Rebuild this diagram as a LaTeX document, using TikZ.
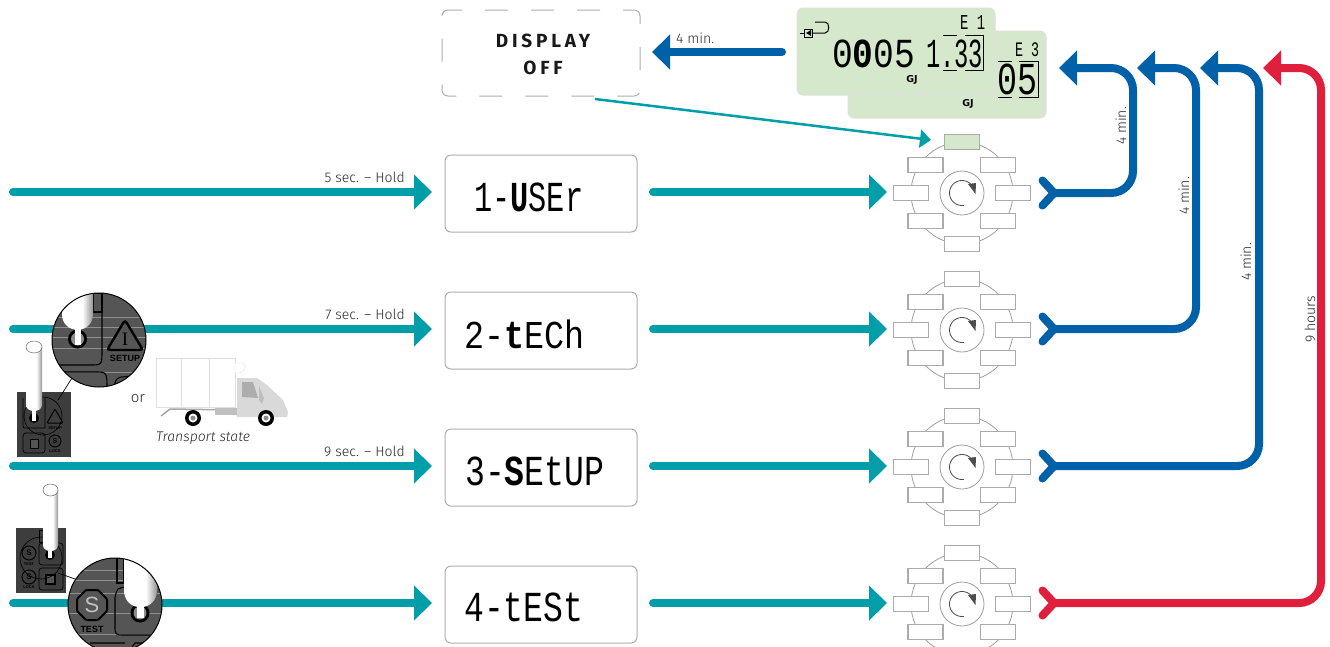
\documentclass[tikz,border=0pt]{standalone}
\usepackage{fontspec}
\usepackage{graphicx}
\usetikzlibrary{arrows.meta,calc}
\setmainfont{Fira Sans Light}[BoldFont=Fira Sans Medium,ItalicFont=Fira Sans Light Italic]
\newfontfamily\lcdfont{Liberation Mono}
\newfontfamily\labfont{Liberation Sans}
\newfontfamily\serfont{Liberation Serif}
\newfontfamily\unitfont{DejaVu Sans}
\newfontfamily\dispfont[LetterSpace=20]{Fira Sans Bold}
\definecolor{tealc}{HTML}{009EA8}
\definecolor{bluec}{HTML}{0060A8}
\definecolor{redc}{HTML}{E01F3C}
\definecolor{lcdg}{HTML}{D5E8CB}
\definecolor{panelc}{HTML}{3D3D3D}
\definecolor{magc}{HTML}{555555}
\pgfdeclarehorizontalshading{ptrshade}{100bp}{color(0bp)=(white);color(25bp)=(white);color(58bp)=(white);color(75bp)=(black!42);color(100bp)=(black!42)}
\tikzset{
  flow/.style={line width=8pt,line cap=round,color=#1},
  flowarrow/.style={line width=8pt,line cap=round,color=#1,-{Triangle[length=18pt,width=34pt]}},
  screenbox/.style={draw=black!32,line width=1pt,rounded corners=6pt,minimum width=192pt,minimum height=77pt,inner sep=0pt},
  card/.style={draw=black!12,line width=1pt,fill=lcdg,rounded corners=6pt,minimum width=198pt,minimum height=87pt,inner sep=0pt},
  slot/.style={draw=black!33,fill=white,line width=1.1pt,minimum width=35pt,minimum height=15.5pt,inner sep=0pt},
  ring/.style={draw=black!38,line width=.8pt},
  note/.style={font=\fontsize{14}{15}\selectfont,text=black!85,inner sep=0pt},
  thinlcd/.style={line width=1pt,color=black},
  gapline/.style={line width=.4pt,color=white!35!magc},
  edge/.style={line width=1.1pt,color=black},
  pointer/.style={shading=ptrshade,draw=none},
  lbl/.style={inner sep=0pt,text=black}
}
\newcommand{\lcdtxt}[6]{\node[anchor=north west,inner sep=0pt] (#1) at (#2,#3) {\resizebox*{#4pt}{#5pt}{\lcdfont #6}};}
\newcommand{\rotary}[3]{%
  \coordinate (o#1) at (962,#2);
  \draw[ring] (o#1) circle (51pt);
  \node[ring,circle,fill=white,minimum size=44pt,inner sep=0pt] (c#1) at (o#1) {};
  \node[slot,#3] (t#1) at ($(o#1)+(0,-51)$) {};
  \node[slot] (ul#1) at ($(o#1)+(-36.5,-28)$) {};
  \node[slot] (ur#1) at ($(o#1)+(36,-28)$) {};
  \node[slot] (l#1) at ($(o#1)+(-51,0)$) {};
  \node[slot] (r#1) at ($(o#1)+(51,0)$) {};
  \node[slot] (ll#1) at ($(o#1)+(-36.5,28)$) {};
  \node[slot] (lr#1) at ($(o#1)+(36,28)$) {};
  \node[slot] (b#1) at ($(o#1)+(0,51)$) {};
  \draw[line width=.8pt,color=black!70] plot[domain=40:278,samples=40,smooth] ({962+12.5*cos(\x)},{#2-12.5*sin(\x)});
  \fill[color=black!70] (968,#2-9) -- (976,#2-10) -- (975.5,#2+1) -- cycle;
}
\newcommand{\fork}[3]{%
  \coordinate (f#1) at (1054,#2);
  \coordinate (fa#1) at (1042.5,#2-12.5);
  \coordinate (fb#1) at (1042.5,#2+12.5);
  \draw[flow=#3,line join=round] (fa#1) -- (f#1) -- (fb#1);
}
\begin{document}
\begin{tikzpicture}[x=1pt,y=-1pt]
\useasboundingbox (0,0) rectangle (1330,646);
\clip (0,0) rectangle (1330,646);

% top row
\node[draw=black!32,line width=1pt,rounded corners=6pt,dash pattern=on 23pt off 23pt,dash phase=12pt,minimum width=198pt,minimum height=86pt,inner sep=0pt] (off) at (541,53) {};
\node[inner sep=0pt,font=\fontsize{19}{20}\selectfont\dispfont,text=black!90] (offa) at (543,41) {DISPLAY};
\node[inner sep=0pt,font=\fontsize{19}{20}\selectfont\dispfont,text=black!90] (offb) at (543,68) {OFF};

\node[card] (back) at (947,74.5) {};
\node[card] (front) at (896,51.5) {};

% front display
\lcdtxt{fa}{960}{15}{25}{14}{E 1}
\lcdtxt{fd}{832}{40}{83}{28}{0{\bfseries 0}05}
\lcdtxt{fe}{926}{40}{57}{28}{1.33}
\node[lbl,font=\unitfont\bfseries\fontsize{9.5}{10}\selectfont] (fgj) at (912,80) {GJ};
\draw[thinlcd] (943,35.7) -- (957,35.7) (965,35.7) -- (983,35.7) -- (983,70.7) -- (965,70.7) (957,70.7) -- (943,70.7);
\draw[thinlcd,rounded corners=3pt] (812,33) -- (822,33) .. controls (830,33) and (830,22) .. (822,22) -- (815,22);
\draw[thinlcd] (804,29) rectangle (812,37) (800,33) -- (804,33);
\fill (806,33) -- (811,30) -- (811,36) -- cycle;
% back display
\lcdtxt{ba}{1015}{42}{24}{14}{E 3}
\lcdtxt{bd}{997}{64}{40}{31}{05}
\node[lbl,font=\unitfont\bfseries\fontsize{9.5}{10}\selectfont] (bgj) at (968,104) {GJ};
\draw[thinlcd] (998,61) -- (1012,61) (1019,61) -- (1038,61) -- (1038,97) -- (1019,97) (1012,97) -- (998,97);

% display to off
\coordinate (dispout) at (782,52);
\coordinate (offin) at (652,52);
\draw[flowarrow=bluec] (dispout) -- (offin);
\node[note,anchor=west] (m0) at (676,38) {4 min.};

% rotary switches
\rotary{1}{193}{fill=lcdg}
\rotary{2}{330}{}
\rotary{3}{467}{}
\rotary{4}{604}{}

% off to first rotary
\coordinate (offout) at (595,99);
\coordinate (toptip) at (931,140);
\draw[line width=2.5pt,color=tealc,-{Triangle[length=11pt,width=18pt]}] (offout) -- (toptip);

% screen boxes and teal arrows
\foreach \i/\yy in {1/192,2/329,3/466,4/603}{
  \node[screenbox] (box\i) at (541,\yy+1.5) {};
  \coordinate (s\i) at (13,\yy);
  \coordinate (m\i) at (432,\yy);
  \coordinate (n\i) at (653,\yy);
  \coordinate (e\i) at (887,\yy);
  \draw[flowarrow=tealc] (s\i) -- (m\i);
  \draw[flowarrow=tealc] (n\i) -- (e\i);
}
\lcdtxt{t1}{474}{183}{109}{29}{1-{\bfseries U}SEr}
\lcdtxt{t2}{464}{320}{120}{29}{2-{\bfseries t}ECh}
\lcdtxt{t3}{465}{457}{139}{29}{3-{\bfseries S}EtUP}
\lcdtxt{t4}{464}{593}{119}{29}{4-tESt}

\node[note,anchor=east] (h1) at (405,177) {5 sec. – Hold};
\node[note,anchor=east] (h2) at (405,314) {7 sec. – Hold};
\node[note,anchor=east] (h3) at (405,451) {9 sec. – Hold};

% outgoing loops
\coordinate (y1) at (1054,193); \coordinate (c1a) at (1133,193); \coordinate (c1b) at (1133,68); \coordinate (a1) at (1059,68);
\coordinate (y2) at (1054,329); \coordinate (c2a) at (1196,329); \coordinate (c2b) at (1196,68); \coordinate (a2) at (1137,68);
\coordinate (y3) at (1054,466); \coordinate (c3a) at (1259,466); \coordinate (c3b) at (1259,68); \coordinate (a3) at (1200,68);
\coordinate (y4) at (1054,603); \coordinate (c4a) at (1321,603); \coordinate (c4b) at (1321,68); \coordinate (a4) at (1263,68);
\foreach \i/\c in {1/bluec,2/bluec,3/bluec,4/redc}{
  \draw[flowarrow=\c,rounded corners=22pt] (y\i) -- (c\i a) -- (c\i b) -- (a\i);
}
\fork{1}{193}{bluec}
\fork{2}{329}{bluec}
\fork{3}{466}{bluec}
\fork{4}{603}{redc}
\node[note,rotate=90] (v1) at (1121,126) {4 min.};
\node[note,rotate=90] (v2) at (1184,196) {4 min.};
\node[note,rotate=90] (v3) at (1246,262) {4 min.};
\node[note,rotate=90] (v4) at (1310,319) {9 hours};

% --- panel, row 2
\fill[panelc] (17,392) rectangle (71,457);
\draw[edge,line width=.7pt] (23,398) -- (23,424) .. controls (23,428) .. (27,428) -- (45,428) -- (45,398);
\draw[edge,line width=.7pt,rounded corners=3pt] (23,433) rectangle (45,453);
\draw[black,line width=1pt,fill=magc] (30,439) rectangle (38,448);
\draw[black,line width=1pt,rounded corners=1pt] (55,409) -- (63,423) -- (47,423) -- cycle;
\node[lbl,font=\labfont\bfseries\fontsize{4}{4}\selectfont] (p2a) at (55,428) {SETUP};
\draw[black,line width=1pt] (55,441) circle (6pt);
\node[lbl,font=\labfont\bfseries\fontsize{7}{7}\selectfont] (p2s) at (55,441) {S};
\node[lbl,font=\labfont\bfseries\fontsize{4}{4}\selectfont] (p2b) at (55,451) {LOCK};
\draw[black,line width=.6pt] (43,416) circle (19pt);
\draw[black,line width=.7pt] (58,400) -- (72,378);
\path[pointer] (26,347) -- (26,405) .. controls (26,413) and (42,413) .. (42,405) -- (42,347) -- cycle;
\draw[black!60,line width=.5pt,fill=white] (34,347) ellipse (8pt and 6pt);
\fill[black] (34,418) circle (5pt);
\fill[white] (32,409) rectangle (36,421);

% magnifier, row 2
\begin{scope}
  \path[clip] (99,340) circle (47pt);
  \fill[magc] (50,290) rectangle (150,390);
  \foreach \yy in {317,327,337,348,372}{\draw[gapline] (50,\yy) -- (150,\yy);}
  \draw[edge] (93,293) rectangle (102,312);
  \draw[edge] (102,312) -- (102,350) .. controls (102,365) .. (90,365) -- (53,365);
  \draw[edge] (58,372) -- (95,372) .. controls (107,372) .. (107,390);
  \draw[edge] (115,392) -- (115,383) .. controls (117,377) .. (135,376);
  \fill[black] (77.5,339) circle (9.5pt);
  \fill[black!45] (77.5,339) circle (6.5pt);
  \fill[white] (75,328) rectangle (81,345);
  \path[pointer] (62,285) -- (62,314) .. controls (62,335) and (93,335) .. (93,314) -- (93,285) -- cycle;
  \draw[black,line width=2.4pt,rounded corners=3pt,fill=magc] (125,320) -- (143,350) -- (107,350) -- cycle;
  \node[lbl,font=\serfont\fontsize{19}{19}\selectfont] (m2i) at (125,339) {I};
  \node[lbl,font=\labfont\bfseries\fontsize{9}{9}\selectfont] (m2s) at (125,358) {SETUP};
\end{scope}
\draw[black,line width=1pt] (99,340) circle (47pt);

% truck
\draw[black!12,fill=white,line width=.8pt] (156,358) -- (235,358) -- (235,407) -- (156,407) -- cycle;
\draw[black!12,line width=.7pt] (181.5,358) -- (181.5,407) (209.5,358) -- (209.5,407);
\draw[black!15,fill=white] (235,363) -- (243,363) .. controls (247,366) and (245,372) .. (240,373) -- (235,373) -- cycle;
\fill[black!15] (237,378) -- (257,378) -- (267,385) -- (283,400) -- (288,412) -- (287,417) -- (237,417) -- cycle;
\fill[black!32] (242,382) -- (253,382) -- (258,398) -- (242,397) -- cycle;
\fill[black!25] (259,386) -- (264,398) -- (262,404) -- (259,400) -- cycle;
\draw[black!35,line width=1.5pt] (161,416) -- (170,409) -- (237,410);
\fill[black!25] (215,408) rectangle (237,415);
\fill[black] (193,418) circle (8pt); \fill[white] (193,418) circle (4.5pt); \fill[black!45] (193,418) circle (2.5pt);
\fill[black] (266,418) circle (8pt); \fill[white] (266,418) circle (4.5pt); \fill[black!45] (266,418) circle (2.5pt);
\node[note,font=\fontsize{15}{16}\selectfont] (or) at (138,399) {or};
\node[note,font=\fontsize{14}{15}\selectfont\itshape] (tr) at (203,438) {Transport state};

% --- panel, row 4
\fill[panelc] (16,528) rectangle (66,593);
\draw[edge,line width=.7pt] (39,530) rectangle (46,542);
\draw[edge,line width=.7pt,rounded corners=3pt] (39,543) rectangle (63,565);
\draw[edge,line width=.7pt,rounded corners=3pt] (39,568) rectangle (63,590);
\draw[black,line width=1.1pt,fill=magc] (46,575) rectangle (55,584);
\draw[black,line width=1pt] (29,553) circle (7pt);
\node[lbl,font=\labfont\bfseries\fontsize{8}{8}\selectfont] (p4s) at (29,553) {S};
\node[lbl,font=\labfont\bfseries\fontsize{4}{4}\selectfont] (p4a) at (29,564) {TEST};
\draw[black,line width=1pt] (29,577) circle (7pt);
\node[lbl,font=\labfont\bfseries\fontsize{8}{8}\selectfont] (p4t) at (29,577) {S};
\node[lbl,font=\labfont\bfseries\fontsize{4}{4}\selectfont] (p4b) at (29,587) {LOCK};
\draw[black,line width=.6pt] (41,558) circle (21pt);
\draw[black,line width=.7pt] (58,573) -- (78,580);
\path[pointer] (43,490) -- (43,545) .. controls (43,553) and (58,553) .. (58,545) -- (58,490) -- cycle;
\draw[black!60,line width=.5pt,fill=white] (50.5,490) ellipse (7.5pt and 6pt);
\fill[black] (50,555) circle (5pt);
\fill[white] (48,548) rectangle (52,558);

% magnifier, row 4
\begin{scope}
  \path[clip] (115,605) circle (47pt);
  \fill[magc] (60,555) rectangle (170,660);
  \foreach \yy in {570,580,593,613,634}{\draw[gapline] (60,\yy) -- (170,\yy);}
  \draw[edge] (117,555) rectangle (124,583);
  \draw[edge] (127,587) .. controls (117,588) .. (115,598) -- (115,625) .. controls (115,635) .. (125,635) -- (165,635);
  \draw[edge] (90,643) -- (125,643) (130,650) -- (135,643) -- (165,643);
  \fill[black] (140,613) circle (9.5pt);
  \fill[black!45] (140,613) circle (6.5pt);
  \fill[white] (137,598) rectangle (144,618);
  \path[pointer] (124,550) -- (124,590) .. controls (124,613) and (157,613) .. (157,590) -- (157,550) -- cycle;
  \draw[black,line width=2pt,rounded corners=1pt,fill=magc] (86,590) -- (98,590) -- (107,599) -- (107,611) -- (98,620) -- (86,620) -- (77,611) -- (77,599) -- cycle;
  \node[inner sep=0pt,text=black!25,font=\labfont\fontsize{22}{22}\selectfont] (m4s) at (92,605) {S};
  \node[lbl,font=\labfont\bfseries\fontsize{9}{9}\selectfont] (m4t) at (92,629) {TEST};
\end{scope}
\draw[black,line width=1pt] (115,605) circle (47pt);
\end{tikzpicture}
\end{document}
